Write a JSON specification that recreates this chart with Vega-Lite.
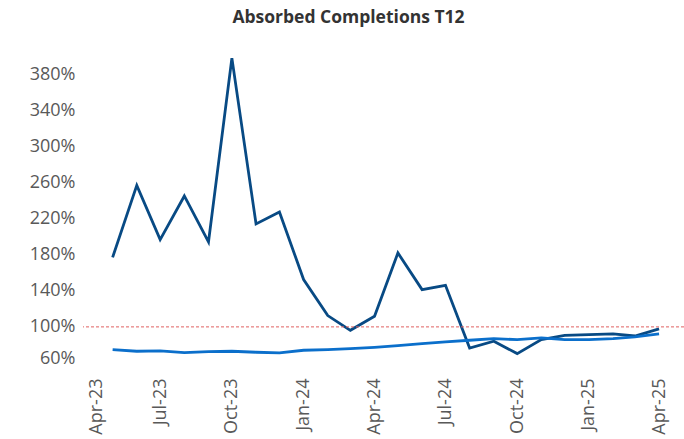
{
  "$schema": "https://vega.github.io/schema/vega-lite/v6.json",
  "width": 601,
  "height": 307,
  "autosize": {"type": "none"},
  "padding": {"left": 83, "top": 56, "right": 0, "bottom": 76},
  "background": "white",
  "title": {
    "text": "Absorbed Completions T12",
    "font": "Open Sans",
    "fontSize": 17.5,
    "fontWeight": "bold",
    "color": "#333333",
    "anchor": "middle",
    "dx": -35,
    "offset": 26
  },
  "config": {"view": {"stroke": null}, "axis": {"labelOverlap": false}},
  "datasets": {
    "series": [
      {"month": "2023-05-01", "series": "Absorbed", "value": 1.77},
      {"month": "2023-06-01", "series": "Absorbed", "value": 2.567},
      {"month": "2023-07-01", "series": "Absorbed", "value": 1.966},
      {"month": "2023-08-01", "series": "Absorbed", "value": 2.45},
      {"month": "2023-09-01", "series": "Absorbed", "value": 1.941},
      {"month": "2023-10-01", "series": "Absorbed", "value": 3.977},
      {"month": "2023-11-01", "series": "Absorbed", "value": 2.14},
      {"month": "2023-12-01", "series": "Absorbed", "value": 2.273},
      {"month": "2024-01-01", "series": "Absorbed", "value": 1.524},
      {"month": "2024-02-01", "series": "Absorbed", "value": 1.125},
      {"month": "2024-03-01", "series": "Absorbed", "value": 0.962},
      {"month": "2024-04-01", "series": "Absorbed", "value": 1.117},
      {"month": "2024-05-01", "series": "Absorbed", "value": 1.819},
      {"month": "2024-06-01", "series": "Absorbed", "value": 1.413},
      {"month": "2024-07-01", "series": "Absorbed", "value": 1.46},
      {"month": "2024-08-01", "series": "Absorbed", "value": 0.765},
      {"month": "2024-09-01", "series": "Absorbed", "value": 0.841},
      {"month": "2024-10-01", "series": "Absorbed", "value": 0.704},
      {"month": "2024-11-01", "series": "Absorbed", "value": 0.859},
      {"month": "2024-12-01", "series": "Absorbed", "value": 0.907},
      {"month": "2025-01-01", "series": "Absorbed", "value": 0.915},
      {"month": "2025-02-01", "series": "Absorbed", "value": 0.922},
      {"month": "2025-03-01", "series": "Absorbed", "value": 0.899},
      {"month": "2025-04-01", "series": "Absorbed", "value": 0.978},
      {"month": "2023-05-01", "series": "Average", "value": 0.749},
      {"month": "2023-06-01", "series": "Average", "value": 0.73},
      {"month": "2023-07-01", "series": "Average", "value": 0.734},
      {"month": "2023-08-01", "series": "Average", "value": 0.716},
      {"month": "2023-09-01", "series": "Average", "value": 0.727},
      {"month": "2023-10-01", "series": "Average", "value": 0.73},
      {"month": "2023-11-01", "series": "Average", "value": 0.719},
      {"month": "2023-12-01", "series": "Average", "value": 0.712},
      {"month": "2024-01-01", "series": "Average", "value": 0.741},
      {"month": "2024-02-01", "series": "Average", "value": 0.749},
      {"month": "2024-03-01", "series": "Average", "value": 0.76},
      {"month": "2024-04-01", "series": "Average", "value": 0.774},
      {"month": "2024-05-01", "series": "Average", "value": 0.793},
      {"month": "2024-06-01", "series": "Average", "value": 0.815},
      {"month": "2024-07-01", "series": "Average", "value": 0.834},
      {"month": "2024-08-01", "series": "Average", "value": 0.852},
      {"month": "2024-09-01", "series": "Average", "value": 0.87},
      {"month": "2024-10-01", "series": "Average", "value": 0.859},
      {"month": "2024-11-01", "series": "Average", "value": 0.878},
      {"month": "2024-12-01", "series": "Average", "value": 0.859},
      {"month": "2025-01-01", "series": "Average", "value": 0.859},
      {"month": "2025-02-01", "series": "Average", "value": 0.87},
      {"month": "2025-03-01", "series": "Average", "value": 0.889},
      {"month": "2025-04-01", "series": "Average", "value": 0.922}
    ],
    "ref": [{"target": 1.0}]
  },
  "layer": [
    {
      "data": {"name": "series"},
      "mark": {"type": "line", "strokeWidth": 2.8, "strokeJoin": "miter", "clip": false},
      "encoding": {
        "x": {
          "field": "month",
          "type": "temporal",
          "timeUnit": "utcyearmonth",
          "scale": {"domain": [{"year": 2023, "month": 3, "date": 24, "utc": true}, {"year": 2025, "month": 5, "date": 3, "utc": true}]},
          "axis": {
            "title": null,
            "values": [
              {"year": 2023, "month": 4, "date": 1, "utc": true},
              {"year": 2023, "month": 7, "date": 1, "utc": true},
              {"year": 2023, "month": 10, "date": 1, "utc": true},
              {"year": 2024, "month": 1, "date": 1, "utc": true},
              {"year": 2024, "month": 4, "date": 1, "utc": true},
              {"year": 2024, "month": 7, "date": 1, "utc": true},
              {"year": 2024, "month": 10, "date": 1, "utc": true},
              {"year": 2025, "month": 1, "date": 1, "utc": true},
              {"year": 2025, "month": 4, "date": 1, "utc": true}
            ],
            "tickCount": 30,
            "format": "%b-%y",
            "labelAngle": -90,
            "labelFont": "Open Sans",
            "labelFontSize": 18,
            "labelColor": "#595959",
            "labelPadding": 15,
            "labelOffset": {"condition": {"test": "utcyear(datum.value) == 2023 && utcmonth(datum.value) == 3", "value": 7}, "value": 0},
            "ticks": false,
            "domain": false,
            "grid": false,
            "labelOverlap": false,
            "labelBound": false
          }
        },
        "y": {
          "field": "value",
          "type": "quantitative",
          "scale": {"domain": [0.6, 4.0], "nice": false, "zero": false},
          "axis": {
            "title": null,
            "values": [0.6, 1.0, 1.4, 1.8, 2.2, 2.6, 3.0, 3.4, 3.8],
            "tickCount": 30,
            "format": ".0%",
            "labelFont": "Open Sans",
            "labelFontSize": 18,
            "labelColor": "#595959",
            "labelPadding": 8,
            "labelOffset": {"condition": {"test": "datum.value < 0.7", "value": -5}, "value": 0},
            "labelOverlap": false,
            "labelFlush": false,
            "ticks": false,
            "domain": false,
            "grid": false
          }
        },
        "color": {
          "field": "series",
          "type": "nominal",
          "scale": {"domain": ["Absorbed", "Average"], "range": ["#084a84", "#0b6fcb"]},
          "legend": null
        }
      }
    },
    {
      "data": {"name": "ref"},
      "mark": {"type": "rule", "color": "#e06060", "strokeWidth": 1, "strokeDash": [3, 2]},
      "encoding": {
        "y": {"field": "target", "type": "quantitative"}
      }
    }
  ]
}
